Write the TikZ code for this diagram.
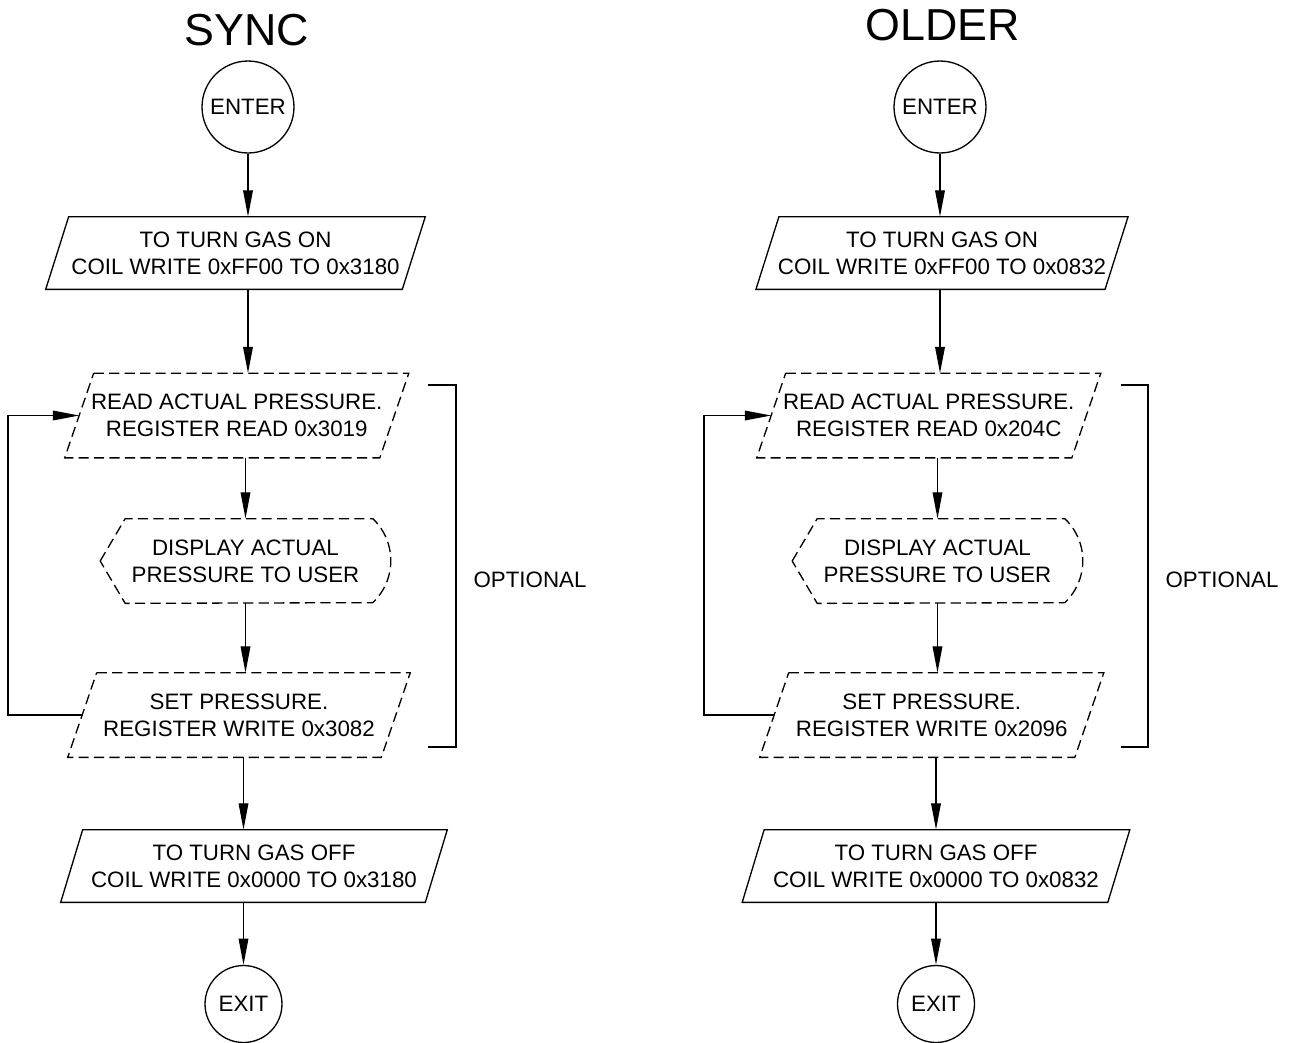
\documentclass[tikz,border=0pt]{standalone}
\usepackage{fontspec}
\setmainfont{Liberation Sans}
\usetikzlibrary{arrows.meta}

\tikzset{
  txt/.style={font=\fontsize{12.7}{15.4}\selectfont, align=center, inner sep=0pt},
  term/.style={txt, circle, draw, line width=0.75pt},
  iobox/.style={txt, rectangle, minimum height=1.44cm},
  optbox/.style={txt, rectangle, minimum height=1.68cm},
  flow/.style={-{Triangle[length=15pt,width=5.5pt]}, line width=0.75pt},
  solidline/.style={line width=0.75pt},
  dashline/.style={line width=0.75pt, dash pattern=on 5.8pt off 3pt},
  title/.style={font=\fontsize{25.5}{30}\selectfont, anchor=base}
}

% slanted input/output box round a node: style, half slant, node
\newcommand{\ioframe}[3]{%
  \draw[#1] ([xshift=#2]#3.north west) -- ([xshift=#2]#3.north east) --
            ([xshift=-#2]#3.south east) -- ([xshift=-#2]#3.south west) -- cycle;}
% display box round a node
\newcommand{\dispframe}[1]{%
  \draw[dashline] (#1.west) -- ([xshift=0.5cm]#1.north west) --
    ([xshift=-0.36cm]#1.north east) arc[start angle=46.4, end angle=-46.4, radius=1.16cm] --
    ([xshift=0.5cm]#1.south west) -- cycle;}

\begin{document}
\begin{tikzpicture}[x=0.02cm,y=0.02cm]
    \useasboundingbox (0,0) rectangle (1291,-1042);

    %SYNC
    \node[title] (titleS) at (247,-45) {SYNC};
    \node[term, minimum size=1.84cm] (enterS) at (248,-107) {ENTER};
    \node[iobox, minimum width=7.12cm] (gasonS) at (235.5,-253)
        {TO TURN GAS ON\\COIL WRITE 0xFF00 TO 0x3180};
    \node[optbox, minimum width=6.29cm] (readS) at (236.75,-415.5)
        {READ ACTUAL PRESSURE.\\REGISTER READ 0x3019};
    \node[optbox, minimum width=5.8cm] (dispS) at (245.5,-561)
        {DISPLAY ACTUAL\\PRESSURE TO USER};
    \node[optbox, minimum width=6.26cm] (setS) at (239,-715)
        {SET PRESSURE.\\REGISTER WRITE 0x3082};
    \node[iobox, minimum width=7.28cm] (gasoffS) at (254,-866)
        {TO TURN GAS OFF\\COIL WRITE 0x0000 TO 0x3180};
    \node[term, minimum size=1.54cm] (exitS) at (243.5,-1004) {EXIT};
    \coordinate (loopS) at (8,-560);

    \ioframe{solidline}{0.23cm}{gasonS}
    \ioframe{dashline}{0.29cm}{readS}
    \dispframe{dispS}
    \ioframe{dashline}{0.29cm}{setS}
    \ioframe{solidline}{0.22cm}{gasoffS}

    \draw[flow] (enterS.south) -- (enterS.south |- gasonS.north);
    \draw[flow] (gasonS.south -| enterS) -- (readS.north -| enterS);
    \draw[flow] (readS.south -| dispS) -- (dispS.north);
    \draw[flow] (dispS.south) -- (dispS.south |- setS.north);
    \draw[flow] (setS.south -| exitS) -- (gasoffS.north -| exitS);
    \draw[flow] (gasoffS.south -| exitS) -- (exitS.north);
    % loop back
    \draw[flow] (setS.west) -- (setS.west -| loopS) |- (readS.west);
    % optional bracket
    \draw[solidline] (428,-385) -- (456,-385) -- (456,-747) -- (428,-747);
    \node[txt] (optS) at (530,-580) {OPTIONAL};

    %OLDER
    \node[title] (titleO) at (942.5,-40) {OLDER};
    \node[term, minimum size=1.84cm] (enterO) at (940,-107) {ENTER};
    \node[iobox, minimum width=6.97cm] (gasonO) at (942,-253)
        {TO TURN GAS ON\\COIL WRITE 0xFF00 TO 0x0832};
    \node[optbox, minimum width=6.29cm] (readO) at (928.75,-415.5)
        {READ ACTUAL PRESSURE.\\REGISTER READ 0x204C};
    \node[optbox, minimum width=5.8cm] (dispO) at (937.5,-561)
        {DISPLAY ACTUAL\\PRESSURE TO USER};
    \node[optbox, minimum width=6.29cm] (setO) at (931.75,-715)
        {SET PRESSURE.\\REGISTER WRITE 0x2096};
    \node[iobox, minimum width=7.3cm] (gasoffO) at (936,-866)
        {TO TURN GAS OFF\\COIL WRITE 0x0000 TO 0x0832};
    \node[term, minimum size=1.54cm] (exitO) at (936,-1004) {EXIT};
    \coordinate (loopO) at (704,-560);

    \ioframe{solidline}{0.23cm}{gasonO}
    \ioframe{dashline}{0.29cm}{readO}
    \dispframe{dispO}
    \ioframe{dashline}{0.29cm}{setO}
    \ioframe{solidline}{0.22cm}{gasoffO}

    \draw[flow] (enterO.south) -- (enterO.south |- gasonO.north);
    \draw[flow] (gasonO.south -| enterO) -- (readO.north -| enterO);
    \draw[flow] (readO.south -| dispO) -- (dispO.north);
    \draw[flow] (dispO.south) -- (dispO.south |- setO.north);
    \draw[flow] (setO.south -| exitO) -- (gasoffO.north -| exitO);
    \draw[flow] (gasoffO.south -| exitO) -- (exitO.north);
    % loop back
    \draw[flow] (setO.west) -- (setO.west -| loopO) |- (readO.west);
    % optional bracket
    \draw[solidline] (1121,-385) -- (1148,-385) -- (1148,-747) -- (1121,-747);
    \node[txt] (optO) at (1222,-580) {OPTIONAL};
\end{tikzpicture}
\end{document}
